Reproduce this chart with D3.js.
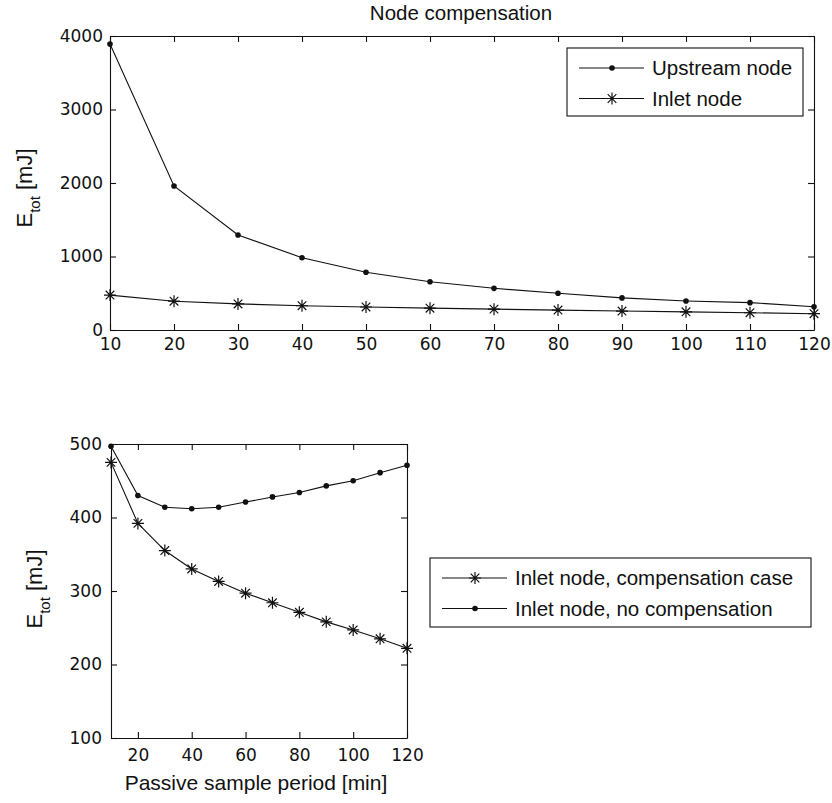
<!DOCTYPE html>
<html>
<head>
<meta charset="utf-8">
<script src="https://cdn.jsdelivr.net/npm/d3@7"></script>
<style>
  body { margin: 0; background: #fff; }
  svg { display: block; }
</style>
</head>
<body>
<svg id="fig" width="832" height="803"></svg>
<script>
// values
var periods = [10, 20, 30, 40, 50, 60, 70, 80, 90, 100, 110, 120];
var upstreamNode = [3890, 1960, 1293, 984, 785, 657, 567, 499, 437, 395, 372, 317];
var inletComp = [475, 392, 355, 330, 313, 297, 284, 271, 258, 247, 235, 222];
var inletNoComp = [497, 430, 414, 412, 414, 421, 428, 434, 443, 450, 461, 471];

var topXTicks = [10, 20, 30, 40, 50, 60, 70, 80, 90, 100, 110, 120];
var topYTicks = [0, 1000, 2000, 3000, 4000];
var botXTicks = [20, 40, 60, 80, 100, 120];
var botYTicks = [100, 200, 300, 400, 500];

var tickFont = "DejaVu Sans, sans-serif";
var textFont = "Liberation Sans, Arial, sans-serif";
var ink = "#111";

var svg = d3.select("#fig");

// marker helpers
function dot(g, cx, cy) {
    g.append("circle").attr("cx", cx).attr("cy", cy).attr("r", 2.8).attr("fill", ink);
}
function star(g, cx, cy) {
    g.append("path")
        .attr("transform", "translate(" + cx + "," + cy + ")")
        .attr("d", "M0,-6V6M-6,0H6M-4.3,-4.3L4.3,4.3M-4.3,4.3L4.3,-4.3")
        .attr("stroke", ink).attr("stroke-width", 1.2).attr("fill", "none");
}

// box with inward ticks on all four sides, MATLAB style
function panel(box, xDom, yDom, xTicks, yTicks, xPad, yPad) {
    var w = box.right - box.left, h = box.bottom - box.top;
    var g = svg.append("g").attr("transform", "translate(" + box.left + "," + box.top + ")");
    var x = d3.scaleLinear().domain(xDom).range([0, w]);
    var y = d3.scaleLinear().domain(yDom).range([h, 0]);
    var fmt = d3.format("d");

    g.append("g").attr("transform", "translate(0," + h + ")")
        .call(d3.axisBottom(x).tickValues(xTicks).tickFormat(fmt)
            .tickSizeInner(-6).tickSizeOuter(0).tickPadding(xPad));
    g.append("g")
        .call(d3.axisLeft(y).tickValues(yTicks).tickFormat(fmt)
            .tickSizeInner(-6).tickSizeOuter(0).tickPadding(yPad));
    g.append("g")
        .call(d3.axisTop(x).tickValues(xTicks).tickSizeInner(-6).tickSizeOuter(0).tickFormat(""));
    g.append("g").attr("transform", "translate(" + w + ",0)")
        .call(d3.axisRight(y).tickValues(yTicks).tickSizeInner(-6).tickSizeOuter(0).tickFormat(""));

    g.selectAll(".domain, .tick line").attr("stroke", ink).attr("stroke-width", 1.1);
    g.selectAll(".tick text").attr("fill", ink).style("font-family", tickFont).style("font-size", "17px");
    return { g: g, x: x, y: y };
}

function series(p, values, marker) {
    var line = d3.line().x(function (d, i) { return p.x(periods[i]); }).y(function (d) { return p.y(d); });
    p.g.append("path").datum(values).attr("d", line)
        .attr("fill", "none").attr("stroke", ink).attr("stroke-width", 1.1);
    values.forEach(function (v, i) { marker(p.g, p.x(periods[i]), p.y(v)); });
}

function legend(x0, y0, x1, y1, rows) {
    svg.append("rect").attr("x", x0).attr("y", y0).attr("width", x1 - x0).attr("height", y1 - y0)
        .attr("fill", "#fff").attr("stroke", ink).attr("stroke-width", 1.1);
    rows.forEach(function (r, i) {
        var cy = y0 + 20 + i * 30.5;
        svg.append("line").attr("x1", x0 + 12).attr("x2", x0 + 77).attr("y1", cy).attr("y2", cy)
            .attr("stroke", ink).attr("stroke-width", 1.1);
        r.marker(svg, x0 + 45, cy);
        svg.append("text").attr("x", x0 + 85).attr("y", cy).attr("dy", "0.36em")
            .text(r.label).attr("fill", ink).style("font-family", textFont).style("font-size", "20.5px");
    });
}

function yLabel(cx, cy) {
    var t = svg.append("text").attr("transform", "translate(" + cx + "," + cy + ") rotate(-90)")
        .attr("text-anchor", "middle").attr("fill", ink)
        .style("font-family", textFont).style("font-size", "22px");
    t.append("tspan").text("E");
    t.append("tspan").attr("dy", 8).style("font-size", "15px").text("tot");
    t.append("tspan").attr("dy", -8).text(" [mJ]");
}

// ---- top panel ----
var topPanel = panel({ left: 110, top: 36, right: 814, bottom: 330 }, [10, 120], [0, 4000],
    topXTicks, topYTicks, 8, 7);
series(topPanel, upstreamNode, dot);
series(topPanel, inletComp, star);
legend(567, 48, 803, 116, [
    { label: "Upstream node", marker: dot },
    { label: "Inlet node", marker: star }
]);
svg.append("text").attr("x", 461).attr("y", 19.5).attr("text-anchor", "middle")
    .text("Node compensation").attr("fill", ink)
    .style("font-family", textFont).style("font-size", "20.5px");
yLabel(32, 188);

// ---- bottom panel ----
var botPanel = panel({ left: 111, top: 444, right: 407, bottom: 738 }, [10, 120], [100, 500],
    botXTicks, botYTicks, 11, 9);
series(botPanel, inletNoComp, dot);
series(botPanel, inletComp, star);
legend(430, 558, 811, 627, [
    { label: "Inlet node, compensation case", marker: star },
    { label: "Inlet node, no compensation", marker: dot }
]);
svg.append("text").attr("x", 256).attr("y", 790).attr("text-anchor", "middle")
    .text("Passive sample period [min]").attr("fill", ink)
    .style("font-family", textFont).style("font-size", "21px");
yLabel(42, 589);
</script>
</body>
</html>
